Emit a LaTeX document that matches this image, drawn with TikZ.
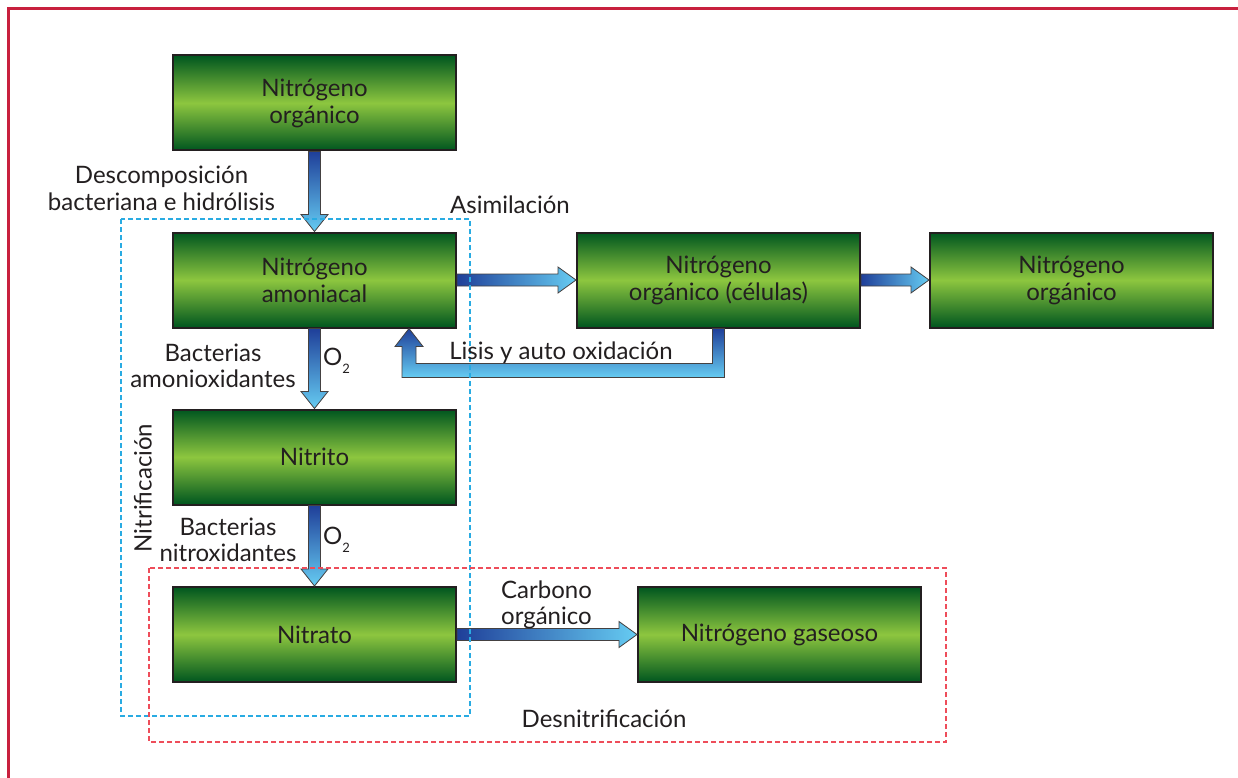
\documentclass[tikz,border=0pt]{standalone}
\usepackage{fontspec}
\setmainfont{Lato}
\usetikzlibrary{calc}
\definecolor{gdark}{HTML}{00561F}
\definecolor{glight}{HTML}{8DC63F}
\definecolor{bdark}{HTML}{1F3F99}
\definecolor{blight}{HTML}{66CCF2}
\definecolor{txt}{HTML}{231F20}
\definecolor{framecol}{HTML}{C8203E}
\definecolor{cyanD}{HTML}{29ABE2}
\definecolor{redD}{HTML}{EE4D5A}
\newcommand\fatdown[2]{%
 \path[fatv] ($(#1.south)+(-6,0)$) -- ($(#2.north)+(-6,-17)$) -- ($(#2.north)+(-13.5,-17)$) -- (#2.north) -- ($(#2.north)+(13.5,-17)$) -- ($(#2.north)+(6,-17)$) -- ($(#1.south)+(6,0)$) -- cycle;}
\newcommand\fatright[2]{%
 \path[fath] ($(#1.east)+(0,-6)$) -- ($(#2.west)+(-18,-6)$) -- ($(#2.west)+(-18,-13)$) -- (#2.west) -- ($(#2.west)+(-18,13)$) -- ($(#2.west)+(-18,6)$) -- ($(#1.east)+(0,6)$) -- cycle;}
\begin{document}
\begin{tikzpicture}[x=1pt,y=-1pt,
 box/.style={draw=txt,line width=2pt,top color=gdark,bottom color=gdark,middle color=glight,minimum width=283pt,minimum height=95pt,inner sep=0pt,align=center,font=\fontsize{24}{27}\selectfont,text=txt},
 lbl/.style={font=\fontsize{24}{26.5}\selectfont,text=txt,inner sep=0pt,align=center},
 fatv/.style={draw=txt!85,line width=0.8pt,top color=bdark,bottom color=blight},
 fath/.style={draw=txt!85,line width=0.8pt,left color=bdark,right color=blight},
 dashblue/.style={draw=cyanD,line width=1.2pt,dash pattern=on 5pt off 3pt},
 dashred/.style={draw=redD,line width=1.2pt,dash pattern=on 5pt off 3pt},
]
\useasboundingbox[fill=white] (0,0) rectangle (1238,778);
\draw[framecol,line width=3pt] (8.5,778) -- (8.5,8.5) -- (1238,8.5);

% boxes
\node[box] (norg) at (314.5,103) {Nitrógeno\\orgánico};
\node[box] (amon) at (314.5,280) {Nitrógeno\\amoniacal};
\node[box] (cel) at (718.5,280) {Nitrógeno\\orgánico (células)};
\node[box] (norg2) at (1071.5,280) {Nitrógeno\\orgánico};
\node[box] (nitrito) at (314.5,457) {Nitrito};
\node[box] (nitrato) at (314.5,634.5) {Nitrato};
\node[box] (gas) at (779.5,634.5) {Nitrógeno gaseoso};

% arrows
\fatdown{norg}{amon}
\fatdown{amon}{nitrito}
\fatdown{nitrito}{nitrato}
\fatright{amon}{cel}
\fatright{cel}{norg2}
\fatright{nitrato}{gas}
\coordinate (tgt) at ($(amon.south east)+(-48,0)$);
\path[fatv] ($(cel.south)+(-6,0)$) -- ($(cel.south)+(-6,35)$) -- ($(tgt)+(7,35)$) -- ($(tgt)+(7,18)$) -- ($(tgt)+(14,18)$) -- (tgt) -- ($(tgt)+(-14,18)$) -- ($(tgt)+(-7,18)$) -- ($(tgt)+(-7,49)$) -- ($(cel.south)+(6,49)$) -- ($(cel.south)+(6,0)$) -- cycle;

% dashed groups
\draw[dashblue] (121,219) rectangle (470,716);
\draw[dashred] (149,568) rectangle (946,742);

% labels
\node[lbl] (ldesc) at (161.5,188.5) {Descomposición\\bacteriana e hidrólisis};
\node[lbl] (lasim) at (510,205) {Asimilación};
\node[lbl] (lbac1) at (213,366) {Bacterias\\amonioxidantes};
\node[lbl,anchor=west] (lo1) at (323,361) {O\raisebox{-0.35em}{\fontsize{13}{13}\selectfont 2}};
\node[lbl] (llisis) at (561,353) {Lisis y auto oxidación};
\node[lbl,rotate=90] (lnitrif) at (143,488) {Nitrificación};
\node[lbl] (lbac2) at (228,540) {Bacterias\\nitroxidantes};
\node[lbl,anchor=west] (lo2) at (323,540) {O\raisebox{-0.35em}{\fontsize{13}{13}\selectfont 2}};
\node[lbl,align=left,anchor=west] (lcarb) at (501,605) {Carbono\\orgánico};
\node[lbl] (ldesn) at (604,719) {Desnitrificación};
\end{tikzpicture}
\end{document}
